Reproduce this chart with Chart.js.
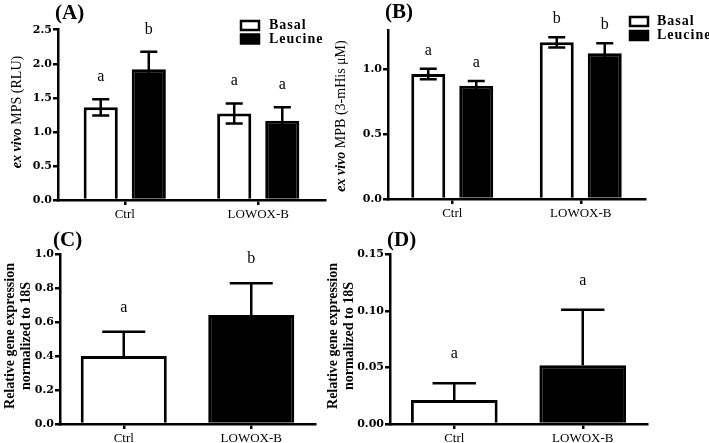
<!DOCTYPE html>
<html><head><meta charset="utf-8">
<script src="https://cdn.jsdelivr.net/npm/chart.js@4.4.0/dist/chart.umd.min.js"></script>
<style>
html,body{margin:0;padding:0;background:#fff;}
#wrap{position:relative;width:709px;height:443px;overflow:hidden;background:#fff;}
#wrap canvas{position:absolute;left:0;top:0;}
</style></head><body>
<div id="wrap">
<canvas id="cA" width="709" height="443"></canvas>
<canvas id="cB" width="709" height="443"></canvas>
<canvas id="cC" width="709" height="443"></canvas>
<canvas id="cD" width="709" height="443"></canvas>
</div>
<script>
// ---------- data ----------
const categories = ['Ctrl', 'LOWOX-B'];
const seriesNames = ['Basal', 'Leucine'];

// Panel A: ex vivo MPS (RLU)
const basalA = [1.36, 1.27];
const basalAErr = [0.12, 0.147];
const leucineA = [1.92, 1.165];
const leucineAErr = [0.255, 0.197];
const basalALetters = ['a', 'a'];
const leucineALetters = ['b', 'a'];
const ticksA = [0, 0.5, 1.0, 1.5, 2.0, 2.5];

// Panel B: ex vivo MPB (3-mHis uM)
const basalB = [0.962, 1.205];
const basalBErr = [0.04, 0.04];
const leucineB = [0.872, 1.121];
const leucineBErr = [0.036, 0.077];
const basalBLetters = ['a', 'b'];
const leucineBLetters = ['a', 'b'];
const ticksB = [0, 0.5, 1.0];

// Panel C: relative gene expression
const valuesC = [0.40, 0.642];
const errC = [0.144, 0.187];
const lettersC = ['a', 'b'];
const ticksC = [0, 0.2, 0.4, 0.6, 0.8, 1.0];

// Panel D: relative gene expression
const valuesD = [0.0212, 0.052];
const errD = [0.0148, 0.049];
const lettersD = ['a', 'a'];
const ticksD = [0, 0.05, 0.10, 0.15];

// ---------- drawing ----------
const W = 709, H = 443;
const YW = 40, XH = 30;
const SERIF = '"Liberation Serif", "Times New Roman", serif';

function drawRotated(ctx, cx, cy, segments) {
  ctx.save();
  ctx.translate(cx, cy);
  ctx.rotate(-Math.PI / 2);
  ctx.textBaseline = 'middle';
  ctx.textAlign = 'left';
  let total = 0;
  segments.forEach(s => { ctx.font = s.font; total += ctx.measureText(s.text).width; });
  let x = -total / 2;
  segments.forEach(s => {
    ctx.font = s.font;
    ctx.fillStyle = '#000';
    ctx.fillText(s.text, x, 0);
    x += ctx.measureText(s.text).width;
  });
  ctx.restore();
}

function makePanel(p) {
  const extras = {
    id: 'extras' + p.id,
    afterDatasetsDraw(chart) {
      const ctx = chart.ctx;
      const y = chart.scales.y;
      ctx.save();
      chart.data.datasets.forEach((ds, di) => {
        const meta = chart.getDatasetMeta(di);
        meta.data.forEach((el, i) => {
          const v = ds.data[i], e = ds.errors[i];
          const top = y.getPixelForValue(v + e);
          const bot = p.both ? y.getPixelForValue(v - e) : el.y;
          const cap = el.width * 0.25;
          ctx.strokeStyle = '#000';
          ctx.lineWidth = 2.5;
          ctx.beginPath();
          ctx.moveTo(el.x, top); ctx.lineTo(el.x, bot);
          ctx.moveTo(el.x - cap, top); ctx.lineTo(el.x + cap, top);
          if (p.both) { ctx.moveTo(el.x - cap, bot); ctx.lineTo(el.x + cap, bot); }
          ctx.stroke();
          ctx.fillStyle = '#000';
          ctx.font = '16px ' + SERIF;
          ctx.textAlign = 'center';
          ctx.textBaseline = 'alphabetic';
          ctx.fillText(ds.letters[i], el.x, top - p.letterOff);
        });
      });
      // panel title
      ctx.font = 'bold 21px ' + SERIF;
      ctx.textAlign = 'left';
      ctx.textBaseline = 'middle';
      ctx.fillStyle = '#000';
      ctx.fillText(p.title, p.titleX, p.titleY);
      // legend
      if (p.legend) {
        const L = p.legend;
        ctx.lineWidth = 2.5;
        ctx.fillStyle = '#fff';
        ctx.fillRect(L.x, L.y1, L.w, L.h);
        ctx.strokeStyle = '#000';
        ctx.strokeRect(L.x, L.y1, L.w, L.h);
        ctx.fillStyle = '#000';
        ctx.fillRect(L.x - 1.25, L.y2 - 1.25, L.w + 2.5, L.h + 2.5);
        ctx.font = 'bold 14px ' + SERIF;
        ctx.textBaseline = 'middle';
        ctx.textAlign = 'left';
        if ('letterSpacing' in ctx) ctx.letterSpacing = '1px';
        ctx.fillText(seriesNames[0], L.tx, L.y1 + L.h / 2);
        ctx.fillText(seriesNames[1], L.tx, L.y2 + L.h / 2);
        if ('letterSpacing' in ctx) ctx.letterSpacing = '0px';
      }
      // y axis title
      p.yTitle(ctx);
      ctx.restore();
    }
  };
  const a = p.area;
  return new Chart(document.getElementById(p.canvas), {
    type: 'bar',
    data: { labels: categories, datasets: p.datasets },
    options: {
      responsive: false, animation: false, devicePixelRatio: 1,
      layout: { padding: { left: a.left - YW, top: a.top, right: W - a.right, bottom: H - a.bottom - XH } },
      plugins: { legend: { display: false }, tooltip: { enabled: false } },
      scales: {
        x: {
          type: 'category', offset: true,
          grid: { display: true, drawOnChartArea: false, drawTicks: true, tickLength: 5, tickWidth: 2.5, tickColor: '#000', offset: false, color: '#000', lineWidth: 2.5 },
          border: { display: true, color: '#000', width: 2.5 },
          ticks: { color: '#000', font: { family: SERIF, size: 13 }, padding: 2, maxRotation: 0, autoSkip: false },
          afterFit: s => { s.height = XH; }
        },
        y: {
          min: 0, max: p.max,
          grid: { display: true, drawOnChartArea: false, drawTicks: true, tickLength: 5, tickWidth: 2.5, tickColor: '#000', color: '#000', lineWidth: 2.5 },
          border: { display: true, color: '#000', width: 2.5 },
          ticks: { color: '#000', font: { family: '"DejaVu Serif", serif', size: 11, weight: 'bold' }, padding: 1,
                   callback: v => Number(v).toFixed(p.dec) },
          afterBuildTicks: s => { s.ticks = p.ticks.map(v => ({ value: v })); },
          afterFit: s => { s.width = YW; }
        }
      }
    },
    plugins: [extras]
  });
}

const whiteBar = { backgroundColor: '#fff', borderColor: '#000', borderWidth: 3, borderSkipped: 'start' };
const blackBar = { backgroundColor: '#000', borderColor: '#000', borderWidth: 3, borderSkipped: 'start' };

makePanel({
  id: 'A', canvas: 'cA', area: { left: 58, top: 29.7, right: 325, bottom: 200 },
  max: 2.5, ticks: ticksA, dec: 1, both: true, letterOff: 18,
  title: '(A)', titleX: 55, titleY: 14,
  legend: { x: 241, y1: 21, y2: 34.5, w: 18, h: 9, tx: 269 },
  datasets: [
    Object.assign({ label: seriesNames[0], data: basalA, errors: basalAErr, letters: basalALetters, categoryPercentage: 0.72, barPercentage: 0.71 }, whiteBar),
    Object.assign({ label: seriesNames[1], data: leucineA, errors: leucineAErr, letters: leucineALetters, categoryPercentage: 0.72, barPercentage: 0.71 }, blackBar)
  ],
  yTitle: ctx => drawRotated(ctx, 17, 112, [
    { text: 'ex vivo ', font: 'italic bold 14px ' + SERIF },
    { text: 'MPS (RLU)', font: '14px ' + SERIF }
  ])
});

makePanel({
  id: 'B', canvas: 'cB', area: { left: 388, top: 30, right: 645, bottom: 199 },
  max: 1.3, ticks: ticksB, dec: 1, both: true, letterOff: 14,
  title: '(B)', titleX: 385, titleY: 13,
  legend: { x: 630, y1: 17, y2: 31, w: 18, h: 9, tx: 657 },
  datasets: [
    Object.assign({ label: seriesNames[0], data: basalB, errors: basalBErr, letters: basalBLetters, categoryPercentage: 0.747, barPercentage: 0.708 }, whiteBar),
    Object.assign({ label: seriesNames[1], data: leucineB, errors: leucineBErr, letters: leucineBLetters, categoryPercentage: 0.747, barPercentage: 0.708 }, blackBar)
  ],
  yTitle: ctx => drawRotated(ctx, 341, 116, [
    { text: 'ex vivo ', font: 'italic bold 14px ' + SERIF },
    { text: 'MPB (3-mHis \u03bcM)', font: '14px ' + SERIF }
  ])
});

makePanel({
  id: 'C', canvas: 'cC', area: { left: 60, top: 254.3, right: 315, bottom: 424 },
  max: 1.0, ticks: ticksC, dec: 1, both: false, letterOff: 20,
  title: '(C)', titleX: 53, titleY: 241,
  datasets: [
    { label: 'C', data: valuesC, errors: errC, letters: lettersC, categoryPercentage: 0.75, barPercentage: 0.9,
      backgroundColor: ['#fff', '#000'], borderColor: '#000', borderWidth: 3, borderSkipped: 'start' }
  ],
  yTitle: ctx => {
    drawRotated(ctx, 10, 336, [{ text: 'Relative gene expression', font: 'bold 14px ' + SERIF }]);
    drawRotated(ctx, 26, 336, [{ text: 'normalized to 18S', font: 'bold 14px ' + SERIF }]);
  }
});

makePanel({
  id: 'D', canvas: 'cD', area: { left: 390, top: 254.3, right: 647, bottom: 424 },
  max: 0.15, ticks: ticksD, dec: 2, both: false, letterOff: 25,
  title: '(D)', titleX: 387, titleY: 241,
  datasets: [
    { label: 'D', data: valuesD, errors: errD, letters: lettersD, categoryPercentage: 0.75, barPercentage: 0.9,
      backgroundColor: ['#fff', '#000'], borderColor: '#000', borderWidth: 3, borderSkipped: 'start' }
  ],
  yTitle: ctx => {
    drawRotated(ctx, 333, 336, [{ text: 'Relative gene expression', font: 'bold 14px ' + SERIF }]);
    drawRotated(ctx, 349, 336, [{ text: 'normalized to 18S', font: 'bold 14px ' + SERIF }]);
  }
});
</script>
</body></html>
